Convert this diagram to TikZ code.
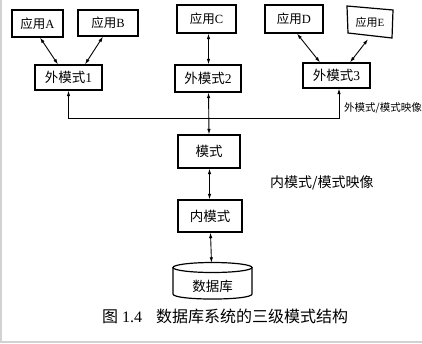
\documentclass[tikz,border=0pt]{standalone}
\usepackage{fontspec}
\setmainfont{Liberation Serif}
\newfontfamily\cjk{Noto Sans CJK SC}
\usetikzlibrary{arrows.meta,calc}
\begin{document}
\begin{tikzpicture}[x=1pt,y=-1pt,
  box/.style={draw,line width=1.2pt,inner sep=0pt,align=center},
  lbl/.style={inner sep=0pt},
  link/.style={line width=0.9pt,{Latex[length=5.5pt,width=3.5pt]}-{Latex[length=5.5pt,width=3.5pt]}},
  topfont/.style={font=\fontsize{12.5}{14}\selectfont},
  midfont/.style={font=\fontsize{13.5}{15}\selectfont}]
\useasboundingbox[fill=white] (0,0) rectangle (422,343);
\fill[gray!35] (0,0) rectangle (2,343);
\fill[gray!35] (0,341) rectangle (422,343);
% application boxes
\node[box,topfont,minimum width=51,minimum height=27] (appA) at (37.5,23.5) {{\cjk 应用}A};
\node[box,topfont,minimum width=60,minimum height=26] (appB) at (108,23) {{\cjk 应用}B};
\node[box,topfont,minimum width=59,minimum height=28] (appC) at (206.5,19) {{\cjk 应用}C};
\node[box,topfont,minimum width=58,minimum height=28] (appD) at (294,19) {{\cjk 应用}D};
\node[lbl,font=\fontsize{11}{13}\selectfont,minimum width=45,minimum height=30] (appE) at (370,22) {{\cjk 应用}E};
\draw[line width=1.2pt] (347,6) -- (393,10) -- (392,38) -- (348,33) -- cycle;
% external schemas
\node[box,midfont,minimum width=67,minimum height=25] (ext1) at (68.5,77.5) {{\cjk 外模式}1};
\node[box,midfont,minimum width=66,minimum height=27] (ext2) at (208,78.5) {{\cjk 外模式}2};
\node[box,midfont,minimum width=67,minimum height=25] (ext3) at (336.5,75.5) {{\cjk 外模式}3};
% schema, internal schema
\node[box,midfont,minimum width=62,minimum height=33] (schema) at (209,151.5) {\cjk 模式};
\node[box,midfont,minimum width=64,minimum height=32] (inner) at (210,216) {\cjk 内模式};
% database cylinder
\node[lbl,midfont,minimum width=79,minimum height=36] (db) at (212.5,281) {};
\draw[line width=1.2pt] (173,267.5) -- (173,294) .. controls (173,300.7) and (252,300.7) .. (252,294) -- (252,267.5);
\draw[line width=1.2pt] (212.5,267.5) ellipse [x radius=39.5pt, y radius=5pt];
\node[lbl,midfont] at (212.5,286) {\cjk 数据库};
% connectors
\draw[link] ([xshift=2.5]appA.south) -- ([xshift=-10.5]ext1.north);
\draw[link] ([xshift=-5]appB.south) -- ([xshift=16.5]ext1.north);
\draw[link] ([xshift=2]appC.south) -- ([xshift=0.5]ext2.north);
\draw[link] ([xshift=3]appD.south) -- ([xshift=-16.5]ext3.north);
\draw[link] ([xshift=-2,yshift=-2]appE.south) -- ([xshift=13.5]ext3.north);
\coordinate (mapR) at (339,118);
\draw[link] (ext1.south) |- (mapR) -- ([xshift=2.5]ext3.south);
\draw[link] ([xshift=0.5]ext2.south) -- (schema.north);
\draw[link] ([xshift=0.5]schema.south) -- ([xshift=-0.5]inner.north);
\draw[link] ([xshift=0.5]inner.south) -- ([xshift=-1]db.north);
% labels
\node[lbl,anchor=west,font=\fontsize{10.5}{12}\selectfont] (lmap1) at (344,108) {\cjk 外模式/模式映像};
\node[lbl,anchor=west,font=\fontsize{14}{16}\selectfont] (lmap2) at (270,183) {\cjk 内模式/模式映像};
% caption
\node[lbl,anchor=west,font=\fontsize{16}{18}\selectfont] (cap) at (102,316) {{\cjk 图} 1.4\hspace{14pt}{\cjk 数据库系统的三级模式结构}};
\end{tikzpicture}
\end{document}
